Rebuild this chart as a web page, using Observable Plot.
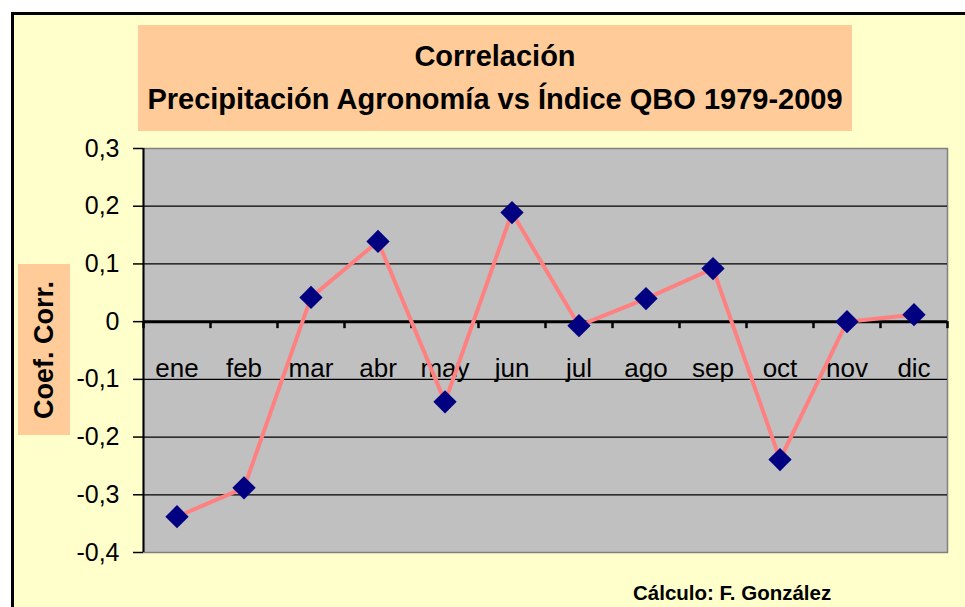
<!DOCTYPE html>
<html>
<head>
<meta charset="utf-8">
<script src="https://cdn.jsdelivr.net/npm/d3@7"></script>
<script src="https://cdn.jsdelivr.net/npm/@observablehq/plot@0.6"></script>
<style>
  html, body { margin: 0; padding: 0; background: #fff; }
  #wrap { position: relative; width: 965px; height: 607px; overflow: hidden; font-family: Arial, "Liberation Sans", sans-serif; }
  #bg { position: absolute; left: 11px; top: 12px; width: 1000px; height: 700px; background: #FFFFCC; border-top: 3px solid #000; border-left: 3px solid #000; box-sizing: border-box; }
  #title { position: absolute; left: 138px; top: 25px; width: 714px; height: 106px; background: #FFCC99; text-align: center; font-weight: bold; font-size: 29px; line-height: 43px; padding-top: 10px; box-sizing: border-box; color: #000; white-space: nowrap; }
  #ylab { position: absolute; left: 18px; top: 264px; width: 52px; height: 171px; background: #FFCC99; }
  #ylab span { position: absolute; left: 50%; top: 50%; transform: translate(-50%, -50%) rotate(-90deg); white-space: nowrap; font-weight: bold; font-size: 27px; color: #000; }
  #caption { position: absolute; left: 633px; top: 581px; font-weight: bold; font-size: 20.5px; color: #000; white-space: nowrap; }
  #chart { position: absolute; left: 0; top: 0; }
</style>
</head>
<body>
<div id="wrap">
  <div id="bg"></div>
  <div id="chart"></div>
  <div id="title">Correlación<br>Precipitación Agronomía vs Índice QBO 1979-2009</div>
  <div id="ylab"><span>Coef. Corr.</span></div>
  <div id="caption">Cálculo: F. González</div>
</div>
<script>
const months = ["ene", "feb", "mar", "abr", "may", "jun", "jul", "ago", "sep", "oct", "nov", "dic"];
const coef = [-0.338, -0.288, 0.042, 0.139, -0.139, 0.189, -0.007, 0.040, 0.092, -0.239, 0.0, 0.012];
const yTicks = [-0.4, -0.3, -0.2, -0.1, 0, 0.1, 0.2, 0.3];

const data = months.map((m, i) => ({m, i, v: coef[i]}));
const edges = d3.range(months.length + 1).map(k => k - 0.5);
const fmt = d => d === 0 ? "0" : (d < 0 ? "-" : "") + Math.abs(d).toFixed(1).replace(".", ",");

const plot = Plot.plot({
  width: 965,
  height: 607,
  marginLeft: 143,
  marginRight: 18,
  marginTop: 148,
  marginBottom: 55,
  style: {background: "transparent", fontFamily: "Arial, 'Liberation Sans', sans-serif", color: "#000", overflow: "visible"},
  x: {type: "linear", domain: [-0.5, months.length - 0.5], axis: null},
  y: {domain: [-0.4, 0.3], axis: null},
  marks: [
    Plot.frame({fill: "#C0C0C0", stroke: "#808080", strokeWidth: 1.5}),
    Plot.ruleY(yTicks.filter(t => t !== 0 && t !== 0.3 && t !== -0.4), {stroke: "#000", strokeWidth: 1.2}),
    Plot.text(data, {x: "i", y: d => 0, text: "m", dy: 47, fontSize: 26, fill: "#000"}),
    Plot.ruleY([0], {stroke: "#000", strokeWidth: 3}),
    Plot.ruleX(edges, {x: d => d, y1: d => 0, y2: d => 0, insetBottom: -7, stroke: "#000", strokeWidth: 2.5}),
    Plot.ruleX([-0.5], {stroke: "#000", strokeWidth: 2}),
    Plot.axisY({ticks: yTicks, label: null, tickSize: 10, tickPadding: 14, fontSize: 25, tickFormat: fmt, stroke: "#000", fill: "#000", strokeWidth: 1.5}),
    Plot.line(data, {x: "i", y: "v", stroke: "#FF8080", strokeWidth: 4}),
    Plot.dot(data, {x: "i", y: "v", symbol: "diamond2", r: 10.5, fill: "#000080", stroke: "none"})
  ]
});
document.getElementById("chart").appendChild(plot);
</script>
</body>
</html>
